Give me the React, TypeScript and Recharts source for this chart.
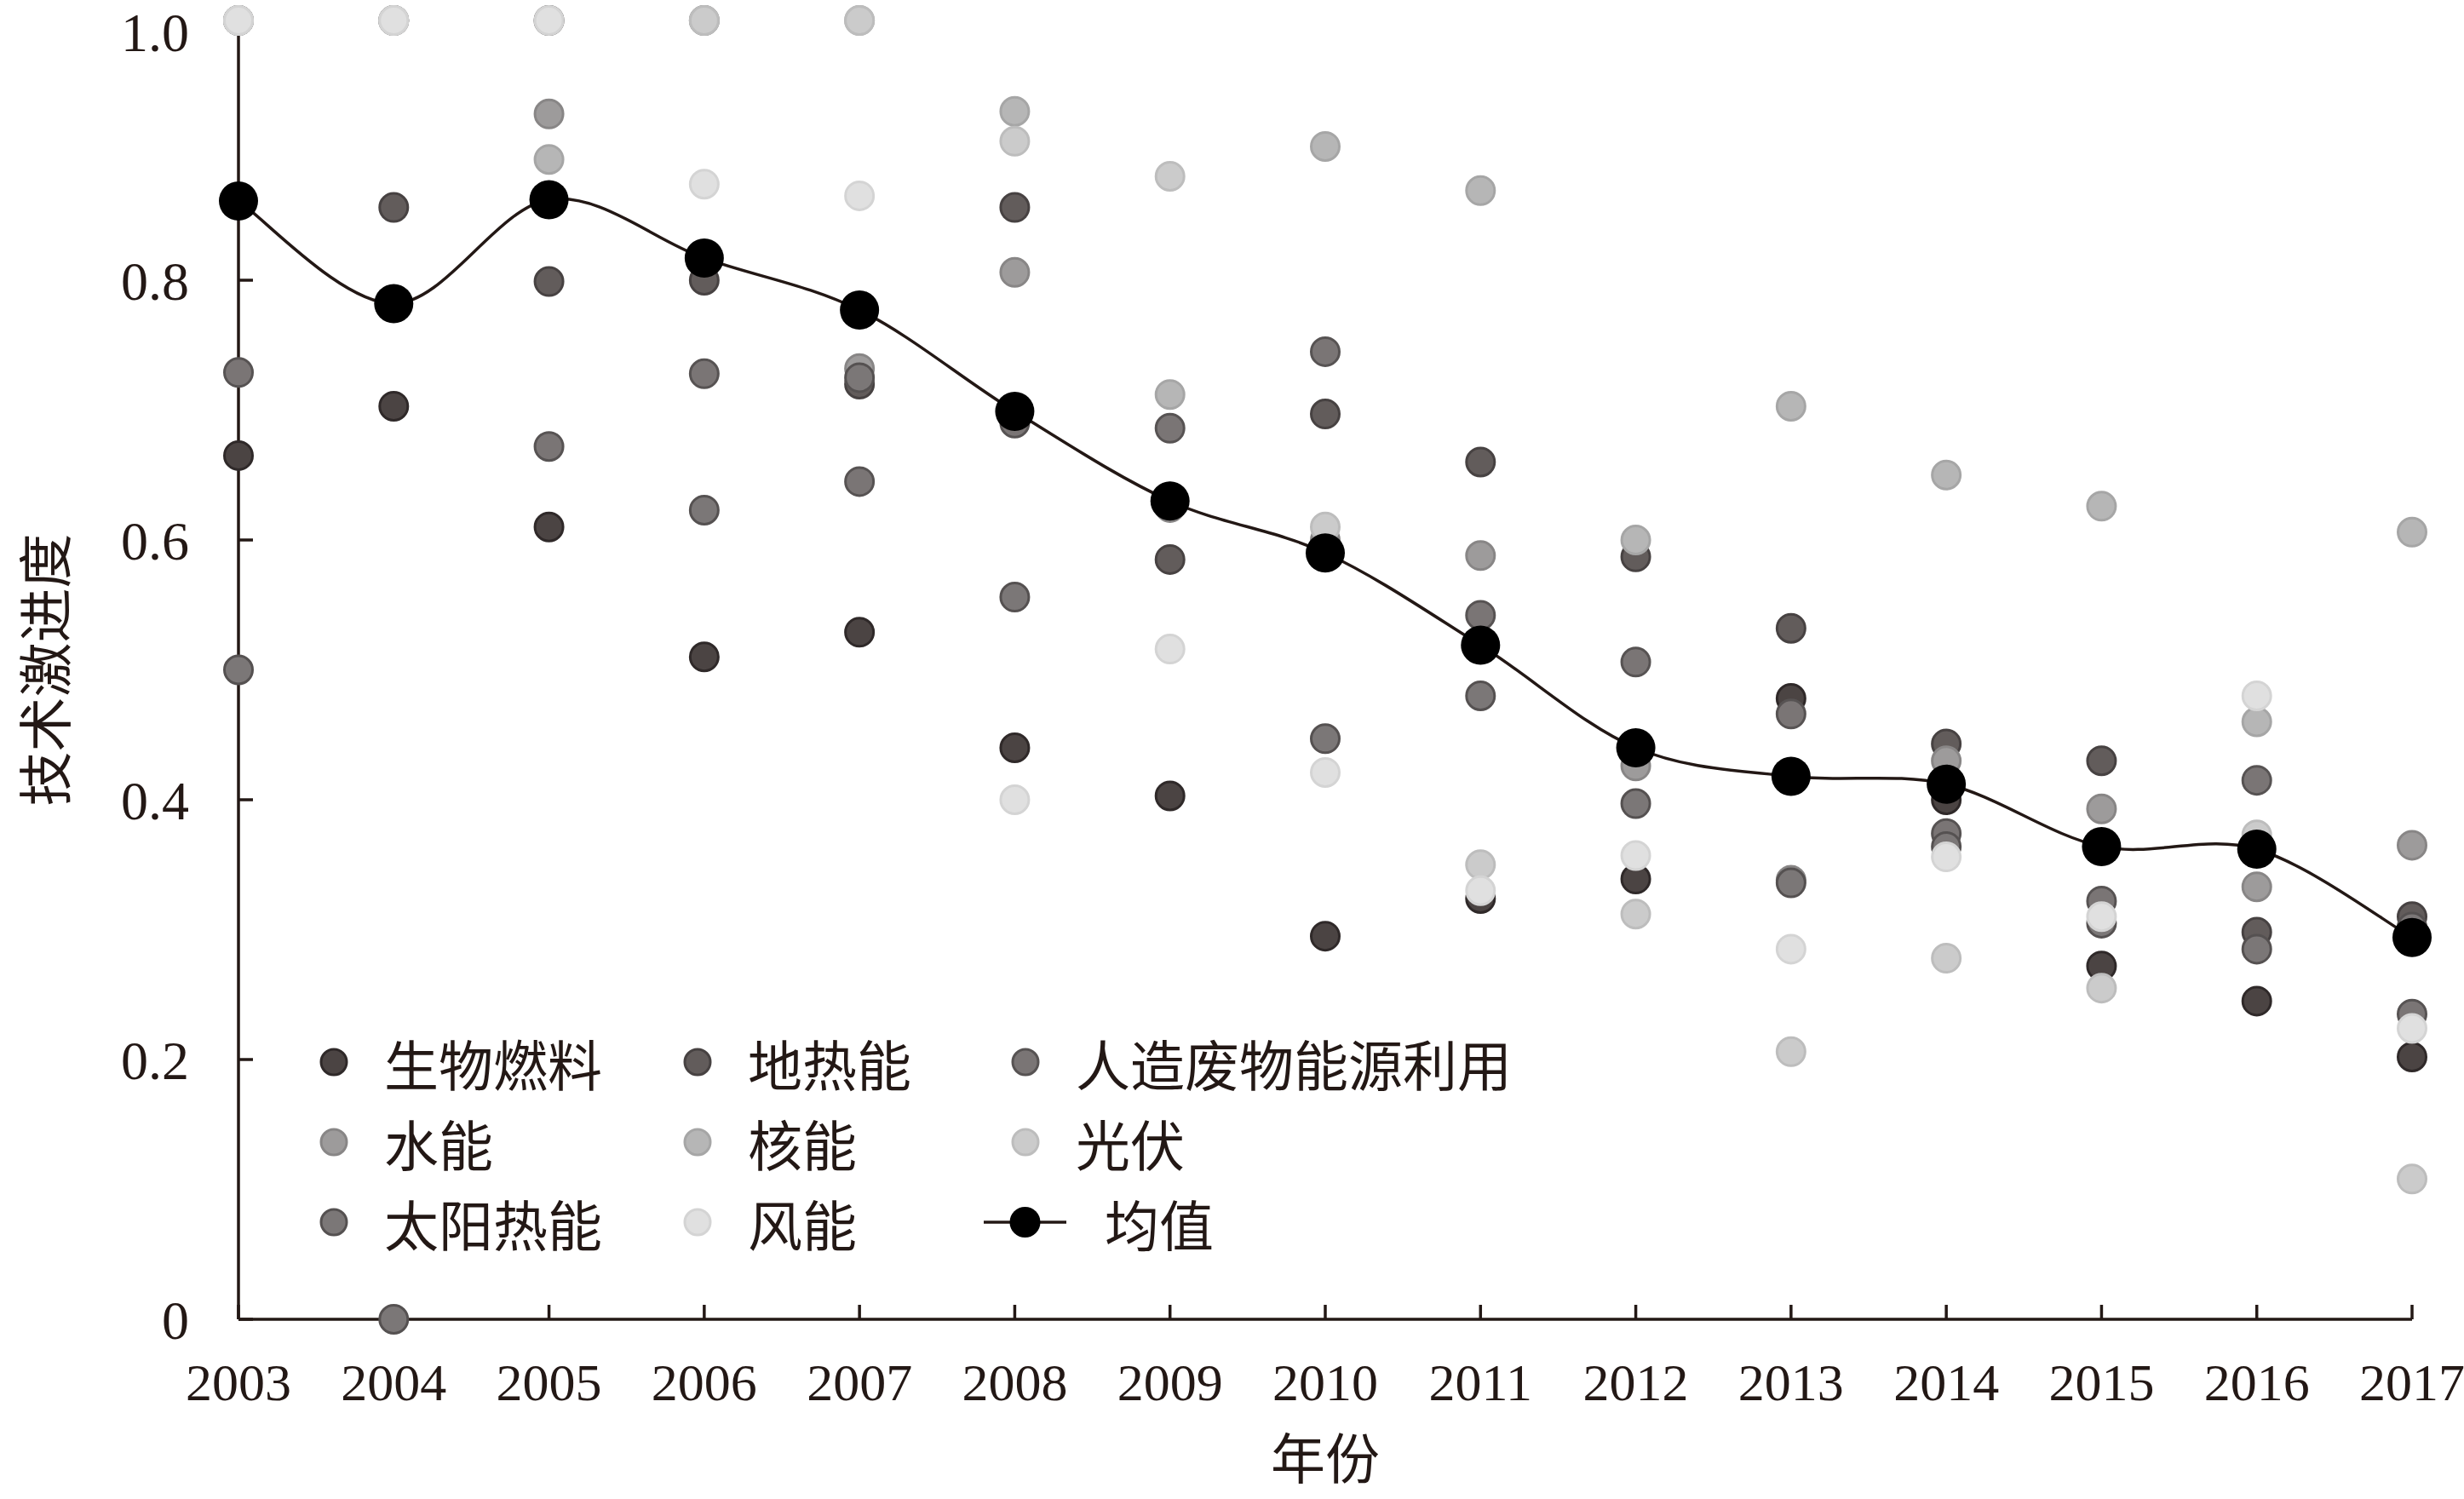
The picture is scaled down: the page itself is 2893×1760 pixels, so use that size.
import React from 'react'
import { ComposedChart, Scatter, Line, XAxis, YAxis } from 'recharts'

const years = [2003, 2004, 2005, 2006, 2007, 2008, 2009, 2010, 2011, 2012, 2013, 2014, 2015, 2016, 2017]

const biofuel = [0.665, 0.703, 0.61, 0.51, 0.529, 0.44, 0.403, 0.295, 0.324, 0.339, 0.478, 0.4, 0.272, 0.245, 0.202]
const geothermal = [1.0, 0.856, 0.799, 0.8, 0.72, 0.856, 0.585, 0.697, 0.66, 0.587, 0.532, 0.443, 0.43, 0.298, 0.31]
const wasteEnergy = [0.729, 1.0, 0.672, 0.728, 0.645, 0.69, 0.686, 0.745, 0.542, 0.506, 0.466, 0.374, 0.322, 0.415, 0.235]
const hydro = [1.0, 1.0, 0.928, 1.0, 0.732, 0.806, 0.625, 0.6, 0.588, 0.426, 0.338, 0.43, 0.393, 0.333, 0.365]
const nuclear = [1.0, 1.0, 0.893, 1.0, 1.0, 0.93, 0.712, 0.903, 0.869, 0.6, 0.703, 0.65, 0.626, 0.46, 0.606]
const photovoltaic = [1.0, 1.0, 1.0, 1.0, 1.0, 0.907, 0.88, 0.61, 0.35, 0.312, 0.206, 0.278, 0.255, 0.373, 0.108]
const solarThermal = [0.5, 0.0, 1.0, 0.623, 0.725, 0.556, 0.633, 0.447, 0.48, 0.397, 0.336, 0.364, 0.305, 0.285, 0.302]
const wind = [1.0, 1.0, 1.0, 0.874, 0.865, 0.4, 0.516, 0.421, 0.33, 0.357, 0.285, 0.356, 0.31, 0.48, 0.224]
const meanValues = [0.861, 0.782, 0.862, 0.817, 0.777, 0.699, 0.63, 0.59, 0.519, 0.44, 0.418, 0.412, 0.364, 0.362, 0.294]

const yTicks = [0, 0.2, 0.4, 0.6, 0.8, 1.0]

const INK = '#231815'
const DOT_R = 16.5

const seriesList = [
  { name: '生物燃料', values: biofuel, fill: '#4b4443', stroke: '#2f2929' },
  { name: '地热能', values: geothermal, fill: '#625c5b', stroke: '#474242' },
  { name: '人造废物能源利用', values: wasteEnergy, fill: '#7a7575', stroke: '#575353' },
  { name: '水能', values: hydro, fill: '#9d9b9b', stroke: '#888686' },
  { name: '核能', values: nuclear, fill: '#b6b6b6', stroke: '#a6a6a6' },
  { name: '光伏', values: photovoltaic, fill: '#cbcbcb', stroke: '#bdbdbd' },
  { name: '太阳热能', values: solarThermal, fill: '#7b7777', stroke: '#555151' },
  { name: '风能', values: wind, fill: '#e0e0e0', stroke: '#d4d4d4' },
]

const meanData = years.map((year, i) => ({ year, value: meanValues[i] }))

// Excel-like smoothed line (Catmull-Rom through every point)
const smoothCurve = (context: any) => {
  let pts: number[][] = []
  return {
    areaStart() {},
    areaEnd() {},
    lineStart() {
      pts = []
    },
    point(x: number, y: number) {
      pts.push([+x, +y])
    },
    lineEnd() {
      if (!pts.length) return
      context.moveTo(pts[0][0], pts[0][1])
      for (let i = 0; i < pts.length - 1; i++) {
        const p0 = pts[i - 1] || pts[i]
        const p1 = pts[i]
        const p2 = pts[i + 1]
        const p3 = pts[i + 2] || p2
        context.bezierCurveTo(
          p1[0] + (p2[0] - p0[0]) / 6,
          p1[1] + (p2[1] - p0[1]) / 6,
          p2[0] - (p3[0] - p1[0]) / 6,
          p2[1] - (p3[1] - p1[1]) / 6,
          p2[0],
          p2[1]
        )
      }
    },
  }
}

const serif = '"Liberation Serif", "Times New Roman", serif'
const cjk = '"Noto Sans CJK SC", "Noto Sans", sans-serif'
const xTickStyle = { fontSize: 62, fill: INK, fontFamily: serif }
const yTickStyle = { fontSize: 64, fill: INK, fontFamily: serif }

const ChartLegend = () => (
  <div
    style={{
      position: 'absolute',
      left: 375,
      top: 1200,
      display: 'grid',
      gridTemplateColumns: '427px 385px auto',
      gridAutoRows: '94px',
      fontFamily: cjk,
      fontSize: 64,
      color: INK,
    }}
  >
    {seriesList.map((s) => (
      <div key={s.name} style={{ display: 'flex', alignItems: 'center' }}>
        <svg width={34} height={34}>
          <circle cx={17} cy={17} r={15} fill={s.fill} stroke={s.stroke} strokeWidth={3} />
        </svg>
        <span style={{ marginLeft: 42, whiteSpace: 'nowrap' }}>{s.name}</span>
      </div>
    ))}
    <div style={{ display: 'flex', alignItems: 'center' }}>
      <svg width={97} height={40} style={{ marginLeft: -32 }}>
        <line x1={0} y1={20} x2={97} y2={20} stroke={INK} strokeWidth={3.5} />
        <circle cx={48.5} cy={20} r={18} fill="#000" />
      </svg>
      <span style={{ marginLeft: 45, whiteSpace: 'nowrap' }}>均值</span>
    </div>
  </div>
)

export default function App() {
  return (
    <div style={{ position: 'relative', width: 2893, height: 1760, background: '#fff' }}>
      <style>{'body{margin:0}'}</style>
      <ComposedChart width={2893} height={1760} margin={{ top: 24, right: 61, bottom: 0, left: 0 }}>
        <XAxis
          dataKey="year"
          type="number"
          domain={[2003, 2017]}
          ticks={years}
          interval={0}
          height={211}
          stroke={INK}
          strokeWidth={3.5}
          tickSize={-17}
          tickMargin={68}
          tick={xTickStyle}
          label={{ value: '年份', position: 'insideBottom', offset: 24, fontSize: 64, fill: INK, fontFamily: cjk }}
        />
        <YAxis
          type="number"
          domain={[0, 1]}
          ticks={yTicks}
          width={280}
          stroke={INK}
          strokeWidth={3.5}
          tickSize={-17}
          tickMargin={75}
          tick={yTickStyle}
          tickFormatter={(v: number) => (v === 0 ? '0' : v.toFixed(1))}
          label={{
            value: '技术激进度',
            angle: -90,
            position: 'insideLeft',
            offset: 54,
            fontSize: 64,
            fill: INK,
            fontFamily: cjk,
            style: { textAnchor: 'middle' },
          }}
        />
        {seriesList.map((s) => (
          <Scatter
            key={s.name}
            name={s.name}
            data={years.map((year, i) => ({ year, value: s.values[i] }))}
            dataKey="value"
            isAnimationActive={false}
            shape={(p: any) => (
              <circle cx={p.cx} cy={p.cy} r={DOT_R} fill={s.fill} stroke={s.stroke} strokeWidth={3} />
            )}
          />
        ))}
        <Line
          name="均值"
          data={meanData}
          dataKey="value"
          type={smoothCurve as any}
          stroke={INK}
          strokeWidth={3.5}
          dot={{ r: 23, fill: '#000', stroke: 'none' }}
          activeDot={false}
          isAnimationActive={false}
        />
      </ComposedChart>
      <ChartLegend />
    </div>
  )
}
